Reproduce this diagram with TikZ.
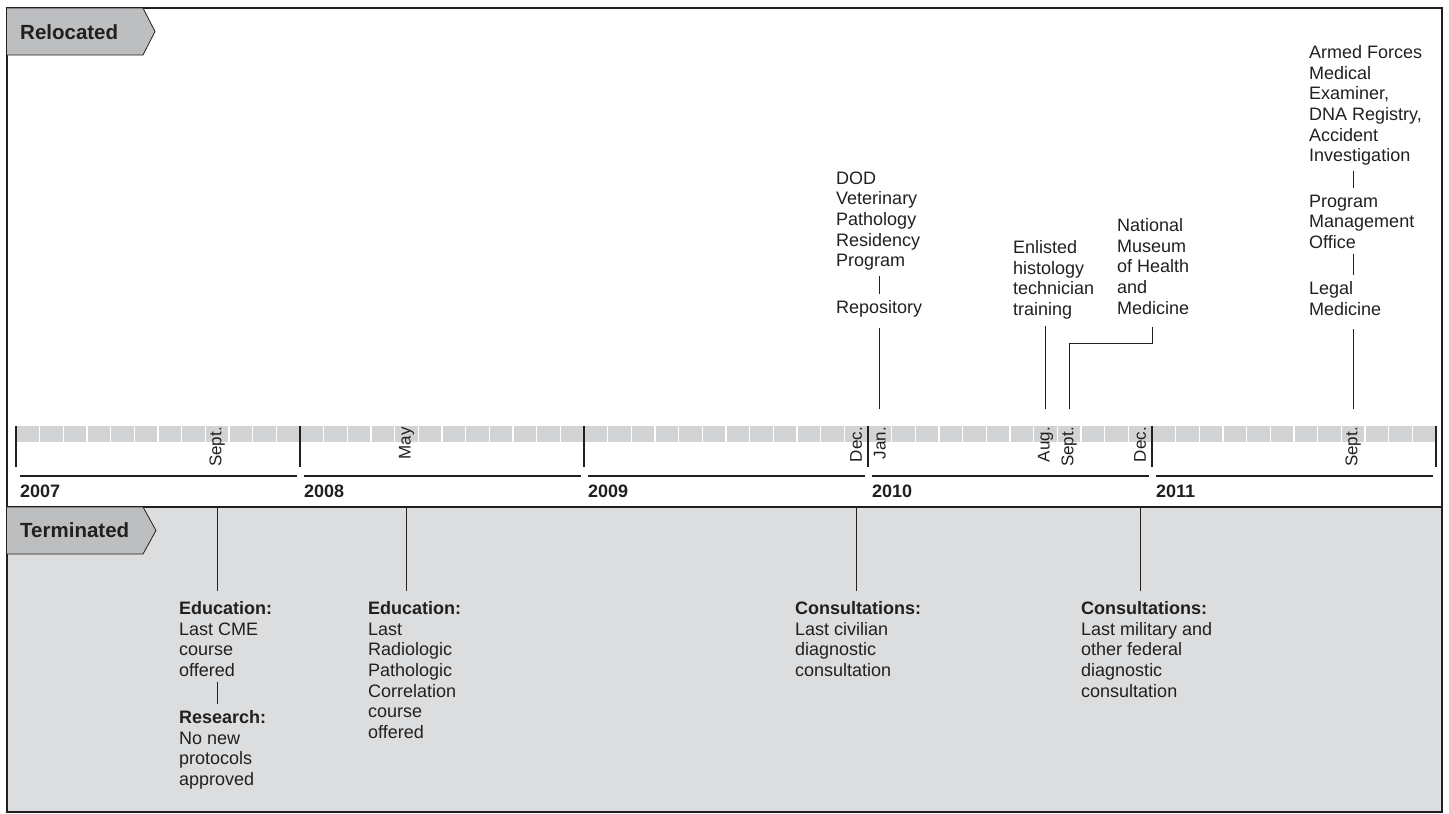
\documentclass[tikz,border=0pt]{standalone}
\usepackage{fontspec}
\setmainfont{Liberation Sans}
\usetikzlibrary{positioning}
\definecolor{ink}{HTML}{231F20}
\definecolor{bandgray}{HTML}{D1D3D4}
\definecolor{termgray}{HTML}{DCDDDE}
\definecolor{tagfill}{HTML}{BCBEC0}
\tikzset{
	lbl/.style={inner sep=0pt, anchor=north west, align=left, text=ink, font=\fontsize{18}{20.6}\selectfont},
	mon/.style={rotate=90, anchor=east, inner sep=0pt, text=ink, font=\fontsize{17}{17}\selectfont},
	yr/.style={anchor=west, inner sep=0pt, text=ink, font=\fontsize{18}{18}\selectfont\bfseries},
	tagtxt/.style={anchor=west, inner sep=0pt, text=ink, font=\fontsize{20.5}{20.5}\selectfont\bfseries},
	tagbox/.style={fill=tagfill, draw=ink, line width=0.8pt},
	link/.style={draw=ink, line width=1pt},
	stack/.style={link, shorten <=5pt, shorten >=7pt}
}

\begin{document}
\begin{tikzpicture}[x=1pt,y=-1pt]
			\useasboundingbox (0,0) rectangle (1449,814);
			% panels and tags
			\fill[termgray] (7,507) rectangle (1442,812);
			\draw[ink, line width=1.8pt] (7,507) -- (1442,507);
			\draw[ink, line width=1.2pt] (7,8) rectangle (1442,812);
			\draw[tagbox] (7,8) -- (143,8) -- (155,31.5) -- (143,55) -- (7,55);
			\node[tagtxt] (reloc) at (20,32) {Relocated};
			\draw[tagbox] (7,507) -- (143,507) -- (156,530.5) -- (143,554) -- (7,554);
			\node[tagtxt] (term) at (20,530) {Terminated};
			% month band
			\foreach \k in {0,...,4} {
				\fill[bandgray] (16+284*\k,426) rectangle +(284,16);
				\foreach \m in {1,...,11}
					\draw[white, line width=1.5pt] (16+284*\k+23.667*\m,426) -- ++(0,16);
			}
			\foreach \k in {0,...,5}
				\draw[ink, line width=2.4pt] (16+284*\k,426) -- ++(0,41);
			\foreach \yr [count=\k from 0] in {2007,...,2011} {
				\draw[ink, line width=1.2pt] (20+284*\k,476) -- ++(277,0);
				\node[yr] (y\yr) at (20+284*\k,491) {\yr};
			}
			\foreach \name/\x/\txt in {sep07/217.2/Sept., may08/406.5/May, dec09/856.2/Dec., jan10/879.8/Jan., aug10/1045.5/Aug., sep10/1069.2/Sept., dec10/1140.2/Dec., sep11/1353.2/Sept.}
				\node[mon] (\name) at (\x,427) {\txt};
			% connector ends on the band
			\coordinate (c-jan10) at (879.8,409);
			\coordinate (c-aug10) at (1045.5,409);
			\coordinate (c-sep10) at (1069.2,409);
			\coordinate (c-sep11) at (1353.2,409);
			\coordinate (nm-bend) at (1152,343);
			\coordinate (c-sep07) at (217.2,507);
			\coordinate (c-may08) at (406.5,507);
			\coordinate (c-dec09) at (856.2,507);
			\coordinate (c-dec10) at (1140.2,507);
			% relocated
			\node[lbl] (dod) at (836,171.5) {DOD\\Veterinary\\Pathology\\Residency\\Program};
			\node[lbl] (rep) at (836,300.5) {Repository};
			\node[lbl] (enl) at (1013,240.5) {Enlisted\\histology\\technician\\training};
			\node[lbl] (nmhm) at (1117,218.5) {National\\Museum\\of Health\\and\\Medicine};
			\node[lbl] (afme) at (1309,45.5) {Armed Forces\\Medical\\Examiner,\\DNA Registry,\\Accident\\Investigation};
			\node[lbl] (pmo) at (1309,194.5) {Program\\Management\\Office};
			\node[lbl] (legal) at (1309,281.5) {Legal\\Medicine};
			\draw[stack] (dod.south -| c-jan10) -- (rep.north -| c-jan10);
			\draw[stack] (afme.south -| c-sep11) -- (pmo.north -| c-sep11);
			\draw[stack] (pmo.south -| c-sep11) -- (legal.north -| c-sep11);
			\draw[link, shorten >=10pt] (c-jan10) -- (rep.south -| c-jan10);
			\draw[link, shorten >=7pt] (c-aug10) -- (enl.south -| c-aug10);
			\draw[link, shorten >=12pt] (c-sep10) |- (nm-bend) -- (nmhm.south -| nm-bend);
			\draw[link, shorten >=13pt] (c-sep11) -- (legal.south -| c-sep11);
			% terminated
			\node[lbl] (cme) at (179,601.5) {\textbf{Education:}\\Last CME\\course\\offered};
			\node[lbl] (res) at (179,710.5) {\textbf{Research:}\\No new\\protocols\\approved};
			\node[lbl] (rpc) at (368,601.5) {\textbf{Education:}\\Last\\Radiologic\\Pathologic\\Correlation\\course\\offered};
			\node[lbl] (civ) at (795,601.5) {\textbf{Consultations:}\\Last civilian\\diagnostic\\consultation};
			\node[lbl] (mil) at (1081,601.5) {\textbf{Consultations:}\\Last military and\\other federal\\diagnostic\\consultation};
			\draw[stack] (cme.south -| c-sep07) -- (res.north -| c-sep07);
			\draw[link, shorten >=11pt] (c-sep07) -- (cme.north -| c-sep07);
			\draw[link, shorten >=11pt] (c-may08) -- (rpc.north -| c-may08);
			\draw[link, shorten >=11pt] (c-dec09) -- (civ.north -| c-dec09);
			\draw[link, shorten >=11pt] (c-dec10) -- (mil.north -| c-dec10);
		\end{tikzpicture}
\end{document}
